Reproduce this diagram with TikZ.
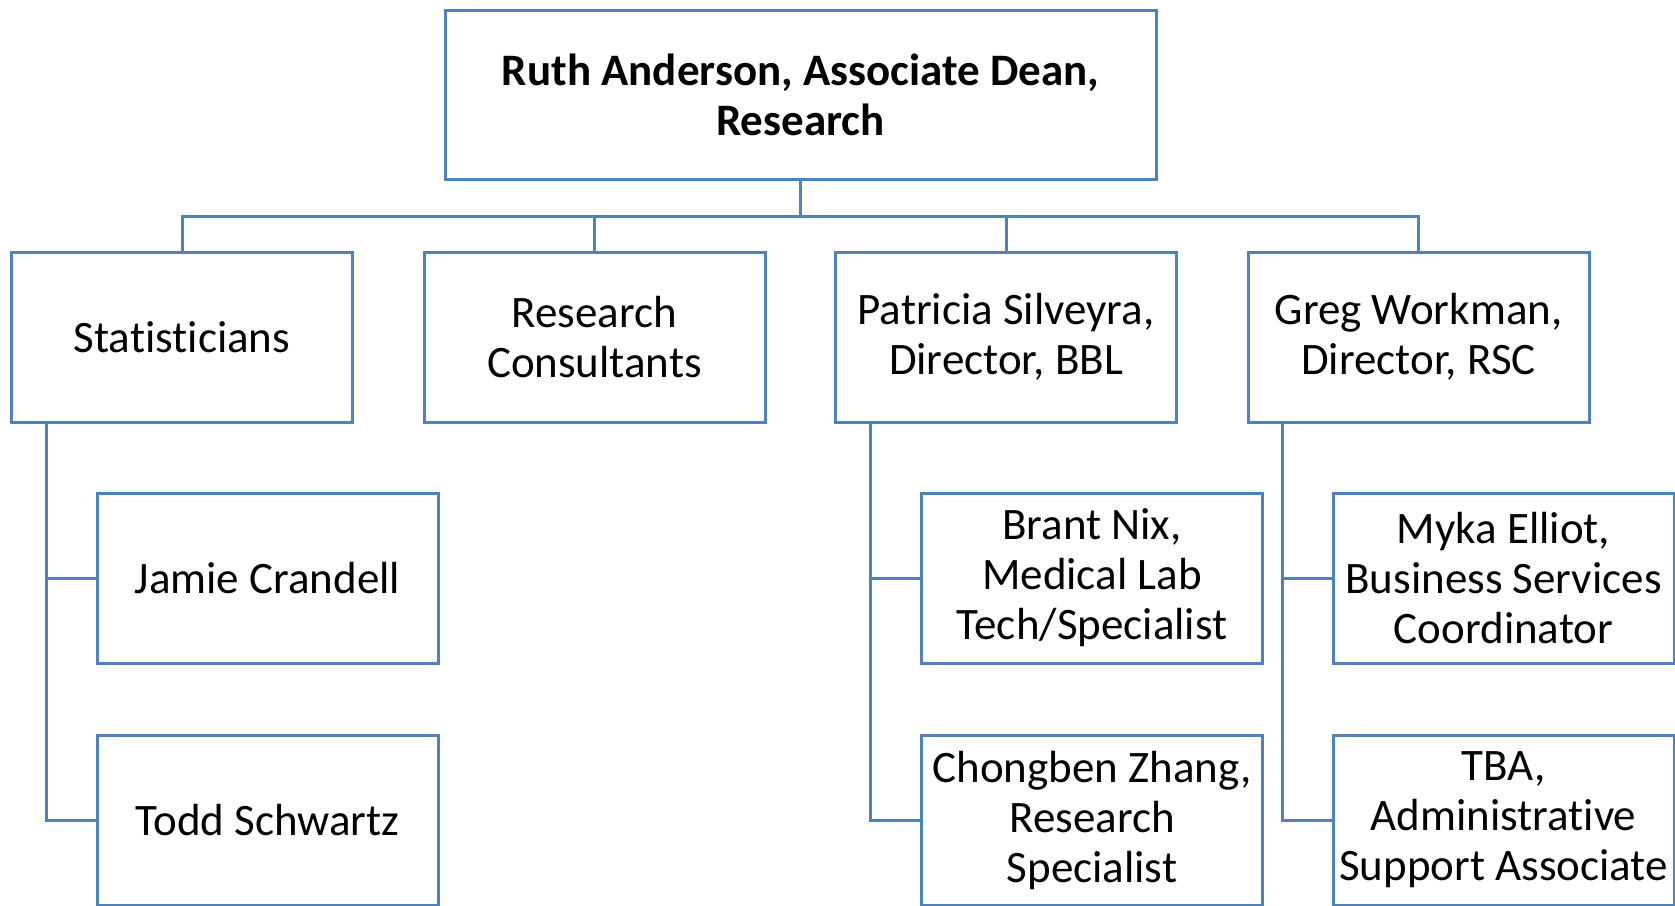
\documentclass[tikz,border=0pt]{standalone}
\usepackage{fontspec}
\setmainfont{Carlito}[Ligatures=NoCommon]
\usepackage{tikz}
\usetikzlibrary{positioning,calc}
\definecolor{orgblue}{HTML}{4F81BD}

\begin{document}
\begin{tikzpicture}[x=0.5pt, y=-0.5pt, line width=1.5pt,
  box/.style={draw=orgblue, fill=white, inner sep=0pt, align=center,
    minimum width=170.5pt, minimum height=85pt, font=\fontsize{22.5}{25}\selectfont},
  head/.style={box, minimum width=355.5pt, minimum height=84.5pt, font=\fontsize{22.5}{25}\selectfont\bfseries},
  link/.style={draw=orgblue}]
\useasboundingbox (0,0) rectangle (1675,905);
% top
\node[head] (dean) at (800.5,94.5) {Ruth Anderson, Associate Dean,\\Research};
\coordinate (bus) at (800.5,216);
% second row
\node[box] (stat) at (182,337)    {Statisticians};
\node[box] (cons) at (594.5,337)  {Research\\Consultants};
\node[box] (bbl)  at (1006,337)   {Patricia Silveyra,\\Director, BBL};
\node[box] (rsc)  at (1418.5,337) {Greg Workman,\\Director, RSC};
% third and fourth rows
\node[box] (jamie) at (267.5,578)  {Jamie Crandell};
\node[box] (todd)  at (267.5,820)  {Todd Schwartz};
\node[box] (nix)   at (1092,578)   {Brant Nix,\\Medical Lab\\Tech/Specialist};
\node[box] (zhang) at (1092,820)   {Chongben Zhang,\\Research\\Specialist};
\node[box] (myka)  at (1503.5,578) {Myka Elliot,\\Business Services\\Coordinator};
\node[box] (tba)   at (1503.5,820) {TBA,\\Administrative\\Support Associate};
% connectors
\draw[link] (dean.south) -- (bus);
\draw[link] (stat.north) |- (bus) -| (rsc.north);
\draw[link] (cons.north) -- (cons.north |- bus);
\draw[link] (bbl.north) -- (bbl.north |- bus);
\draw[link] ([xshift=18pt]stat.south west) |- (todd.west);
\draw[link] ([xshift=18pt]stat.south west) |- (jamie.west);
\draw[link] ([xshift=18pt]bbl.south west) |- (zhang.west);
\draw[link] ([xshift=18pt]bbl.south west) |- (nix.west);
\draw[link] ([xshift=18pt]rsc.south west) |- (tba.west);
\draw[link] ([xshift=18pt]rsc.south west) |- (myka.west);
\end{tikzpicture}
\end{document}
